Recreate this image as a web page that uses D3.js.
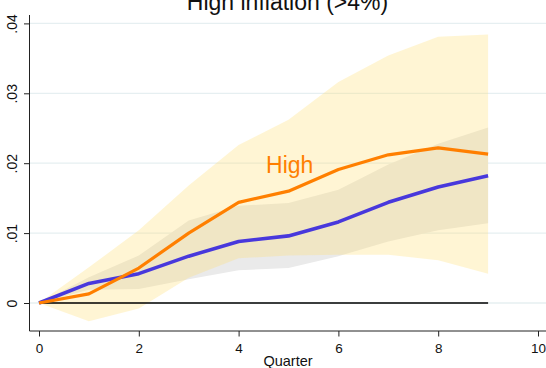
<!DOCTYPE html>
<html>
<head>
<meta charset="utf-8">
<script src="https://cdn.jsdelivr.net/npm/d3@7/dist/d3.min.js"></script>
<style>
  html, body { margin: 0; padding: 0; background: #fff; }
  svg { display: block; font-family: "Liberation Sans", Arial, sans-serif; }
</style>
</head>
<body>
<svg id="chart" width="546" height="368"></svg>
<script>
// ---- data ----
const quarters   = [0, 1, 2, 3, 4, 5, 6, 7, 8, 9];
const highIRF    = [0, 0.0013, 0.0050, 0.0100, 0.0144, 0.0160, 0.0191, 0.0212, 0.0222, 0.0213];
const highUpper  = [0, 0.0051, 0.0104, 0.0168, 0.0226, 0.0262, 0.0316, 0.0354, 0.0381, 0.0384];
const highLower  = [0, -0.0026, -0.0008, 0.0036, 0.0064, 0.0068, 0.0069, 0.0069, 0.0061, 0.0042];
const baseIRF    = [0, 0.0028, 0.0042, 0.0067, 0.0088, 0.0096, 0.0116, 0.0144, 0.0166, 0.0182];
const baseUpper  = [0, 0.0037, 0.0068, 0.0118, 0.0139, 0.0143, 0.0162, 0.0198, 0.0228, 0.0251];
const baseLower  = [0, 0.0019, 0.0020, 0.0034, 0.0047, 0.0050, 0.0067, 0.0088, 0.0104, 0.0114];
const yTicks      = [0, 0.01, 0.02, 0.03, 0.04];
const yTickLabels = ["0", ".01", ".02", ".03", ".04"];
const xTicks      = [0, 2, 4, 6, 8, 10];
const titleText   = "High inflation (>4%)";
const xLabel      = "Quarter";
const seriesLabel = "High";

// ---- layout ----
const svg = d3.select("#chart");
const W = 546, H = 368;
const x = d3.scaleLinear().domain([0, 10]).range([39, 538]);
const y = d3.scaleLinear().domain([0, 0.04]).range([303, 23.4]);
const axisX = 29.5, axisBottom = 331, axisTop = 15;

// gridlines
svg.append("g").selectAll("line").data(yTicks).join("line")
  .attr("x1", axisX).attr("x2", W)
  .attr("y1", d => y(d)).attr("y2", d => y(d))
  .attr("stroke", "#e6eff1").attr("stroke-width", 1.3);

const rows = quarters.map((q, i) => ({
  q, hi: highIRF[i], hu: highUpper[i], hl: highLower[i],
  b: baseIRF[i], bu: baseUpper[i], bl: baseLower[i]
}));

// baseline CI band (gray)
svg.append("path").datum(rows)
  .attr("d", d3.area().x(d => x(d.q)).y0(d => y(d.bl)).y1(d => y(d.bu)))
  .attr("fill", "#eaeaea");

// high inflation CI band (yellow, translucent)
svg.append("path").datum(rows)
  .attr("d", d3.area().x(d => x(d.q)).y0(d => y(d.hl)).y1(d => y(d.hu)))
  .attr("fill", "#ffde70").attr("fill-opacity", 0.3);

// zero line
svg.append("line")
  .attr("x1", x(quarters[0])).attr("x2", x(quarters[quarters.length - 1]))
  .attr("y1", y(0)).attr("y2", y(0))
  .attr("stroke", "#000").attr("stroke-width", 1.3);

// baseline IRF (blue)
svg.append("path").datum(rows)
  .attr("d", d3.line().x(d => x(d.q)).y(d => y(d.b)))
  .attr("fill", "none").attr("stroke", "#4838dc").attr("stroke-width", 3.6)
  .attr("stroke-linejoin", "round");

// high inflation IRF (orange)
svg.append("path").datum(rows)
  .attr("d", d3.line().x(d => x(d.q)).y(d => y(d.hi)))
  .attr("fill", "none").attr("stroke", "#ff7f00").attr("stroke-width", 3.2)
  .attr("stroke-linejoin", "round");

// series label
svg.append("text")
  .attr("x", x(4.55)).attr("y", 173)
  .attr("fill", "#ff7f00").attr("font-size", 23)
  .text(seriesLabel);

// axes lines
svg.append("line").attr("x1", axisX).attr("x2", axisX)
  .attr("y1", axisTop).attr("y2", axisBottom).attr("stroke", "#222").attr("stroke-width", 1);
svg.append("line").attr("x1", axisX).attr("x2", W)
  .attr("y1", axisBottom).attr("y2", axisBottom).attr("stroke", "#222").attr("stroke-width", 1);

// y axis ticks
const yAxis = d3.axisLeft(y).tickValues(yTicks).tickSize(5.5)
  .tickFormat((d, i) => yTickLabels[i]);
const gy = svg.append("g").attr("transform", `translate(${axisX},0)`).call(yAxis);
gy.select(".domain").remove();
gy.selectAll(".tick line").attr("stroke", "#222");
gy.selectAll(".tick text")
  .attr("font-size", 14).attr("fill", "#111")
  .attr("font-family", "'Liberation Sans', Arial, sans-serif")
  .attr("x", null).attr("dy", null)
  .attr("text-anchor", "middle")
  .attr("transform", "translate(-12.3,0) rotate(-90)");

// x axis ticks
const xAxis = d3.axisBottom(x).tickValues(xTicks).tickSize(5.5).tickFormat(d3.format("d"));
const gx = svg.append("g").attr("transform", `translate(0,${axisBottom})`).call(xAxis);
gx.select(".domain").remove();
gx.selectAll(".tick line").attr("stroke", "#222");
gx.selectAll(".tick text")
  .attr("font-size", 13.5).attr("fill", "#111")
  .attr("font-family", "'Liberation Sans', Arial, sans-serif")
  .attr("y", 21.5).attr("dy", null);

// x label
svg.append("text").attr("x", 288).attr("y", 366)
  .attr("text-anchor", "middle").attr("font-size", 14.5).attr("fill", "#111")
  .text(xLabel);

// title
svg.append("text").attr("x", 287.5).attr("y", 10)
  .attr("text-anchor", "middle").attr("font-size", 23).attr("fill", "#111")
  .text(titleText);
</script>
</body>
</html>
